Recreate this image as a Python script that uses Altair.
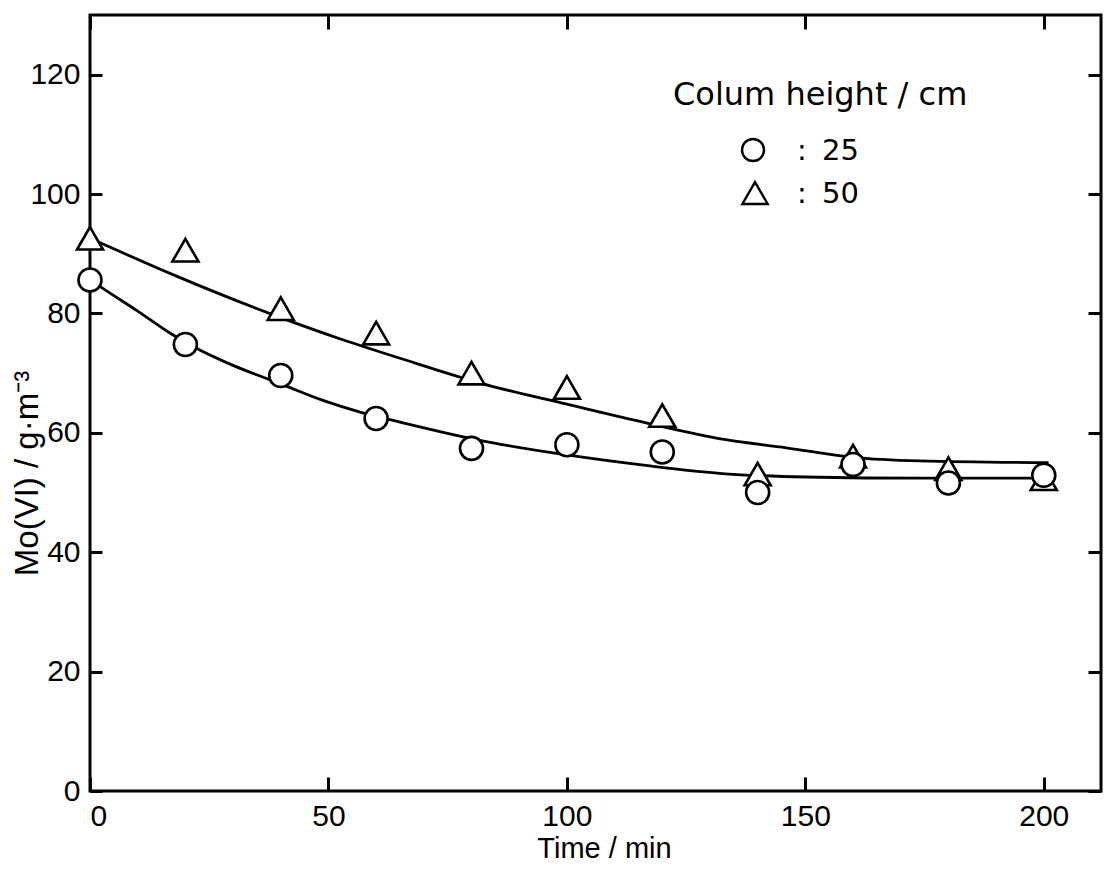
import altair as alt
import pandas as pd

# Sampling times (min) and Mo(VI) concentration (g/m^3) for each column height
time_min = [0, 20, 40, 60, 80, 100, 120, 140, 160, 180, 200]
mo_h25 = [85.6, 74.8, 69.6, 62.4, 57.4, 58.0, 56.8, 50.0, 54.7, 51.6, 52.9]
mo_h50 = [92.6, 90.6, 80.8, 76.7, 70.0, 67.6, 62.9, 53.1, 56.1, 54.0, 52.3]

# Smoothed trend curves through each series
curve_t_h25 = [0, 5, 10, 17, 22, 30, 40, 49, 57, 65, 82, 100, 117, 134, 150, 175, 202]
curve_v_h25 = [85.6, 83.0, 80.4, 76.6, 74.3, 71.3, 68.2, 65.4, 63.4, 61.8, 58.7, 56.3, 54.5, 53.1, 52.6, 52.4, 52.4]
curve_t_h50 = [0, 18, 39, 53, 65, 82, 100, 117, 133, 146, 160, 174, 201]
curve_v_h50 = [92.6, 86.3, 79.6, 75.6, 72.5, 68.3, 64.8, 61.6, 58.9, 57.5, 55.9, 55.3, 55.0]

x_ticks = [0, 50, 100, 150, 200]
y_ticks = [0, 20, 40, 60, 80, 100, 120]

legend_title = "Colum height / cm"
legend_heights = ["25", "50"]

W, H = 1011, 776
LABEL_FONT = "Liberation Sans"
LEGEND_FONT = "DejaVu Sans"

df25 = pd.DataFrame({"t": time_min, "v": mo_h25})
df50 = pd.DataFrame({"t": time_min, "v": mo_h50})
curves_df = pd.concat([
    pd.DataFrame({"t": curve_t_h25, "v": curve_v_h25, "h": "25"}),
    pd.DataFrame({"t": curve_t_h50, "v": curve_v_h50, "h": "50"}),
])

x_scale = alt.Scale(domain=[0, 212], nice=False, zero=False)
y_scale = alt.Scale(domain=[0, 130], nice=False)

common = dict(grid=False, domain=False, tickColor="black", tickWidth=3,
              labelColor="black", labelFont=LABEL_FONT, labelFontSize=30,
              titleColor="black")

# Ticks point into the plot: each axis is pulled inward by its tick length
x_bottom = alt.Axis(orient="bottom", values=x_ticks, offset=-14, tickSize=14,
                    labelPadding=10, format="d", title="Time / min",
                    titleFont=LABEL_FONT, titleFontSize=29,
                    titleFontWeight="normal", titleAlign="center",
                    titleX=514, titlePadding=3, **common)
y_left = alt.Axis(orient="left", values=y_ticks, offset=-12, tickSize=12,
                  labelPadding=10, format="d", title="Mo(VI) / g·m⁻³",
                  titleFont=LABEL_FONT, titleFontSize=33,
                  titleFontWeight="normal", titleAngle=270,
                  titleBaseline="alphabetic", titleAlign="center",
                  titleX=-65, titleY=458, **common)
x_top = alt.Axis(orient="top", values=x_ticks, offset=-14, tickSize=14,
                 labels=False, title="", **common)
y_right = alt.Axis(orient="right", values=y_ticks, offset=-13, tickSize=13,
                   labels=False, title="", **common)

curves = alt.Chart(curves_df).mark_line(
    color="black", strokeWidth=2.8, interpolate="monotone"
).encode(
    x=alt.X("t:Q", scale=x_scale, axis=x_bottom),
    y=alt.Y("v:Q", scale=y_scale, axis=y_left),
    detail="h:N",
)

triangles = alt.Chart(df50).mark_point(
    shape="triangle-up", size=676, filled=True, fill="white",
    stroke="black", strokeWidth=2.6, opacity=1
).encode(
    x=alt.X("t:Q", scale=x_scale, axis=x_top),
    y=alt.Y("v:Q", scale=y_scale, axis=y_right),
)

circles = alt.Chart(df25).mark_point(
    shape="circle", size=529, filled=True, fill="white",
    stroke="black", strokeWidth=2.6, opacity=1
).encode(
    x=alt.X("t:Q", scale=x_scale, axis=None),
    y=alt.Y("v:Q", scale=y_scale, axis=None),
)


def legend_text(text, x, y, size, align="left"):
    return alt.Chart(pd.DataFrame({"label": [text]})).mark_text(
        font=LEGEND_FONT, fontSize=size, color="black", align=align,
        baseline="alphabetic"
    ).encode(x=alt.value(x), y=alt.value(y), text="label:N")


def legend_symbol(shape, size, x, y):
    return alt.Chart(pd.DataFrame({"s": [shape]})).mark_point(
        shape=shape, size=size, filled=True, fill="white", stroke="black",
        strokeWidth=2.4, opacity=1
    ).encode(x=alt.value(x), y=alt.value(y))


# Legend block in the upper right of the plot
legend = [
    legend_text(legend_title, 583, 90, 32),
    legend_symbol("circle", 484, 663, 135),
    legend_text(":", 712, 145, 29, "center"),
    legend_text(legend_heights[0], 732, 145, 29),
    legend_symbol("triangle-up", 640, 665, 178),
    legend_text(":", 712, 188, 29, "center"),
    legend_text(legend_heights[1], 732, 188, 29),
]

chart = alt.layer(
    curves, triangles, circles, *legend
).resolve_axis(x="independent", y="independent").properties(
    width=W, height=H,
    autosize=alt.AutoSizeParams(type="none"),
    padding={"left": 90, "top": 15, "right": 3, "bottom": 81},
    background="white",
).configure_view(stroke="black", strokeWidth=3)

chart.save("out.html", embed_options={"renderer": "svg", "actions": False})
